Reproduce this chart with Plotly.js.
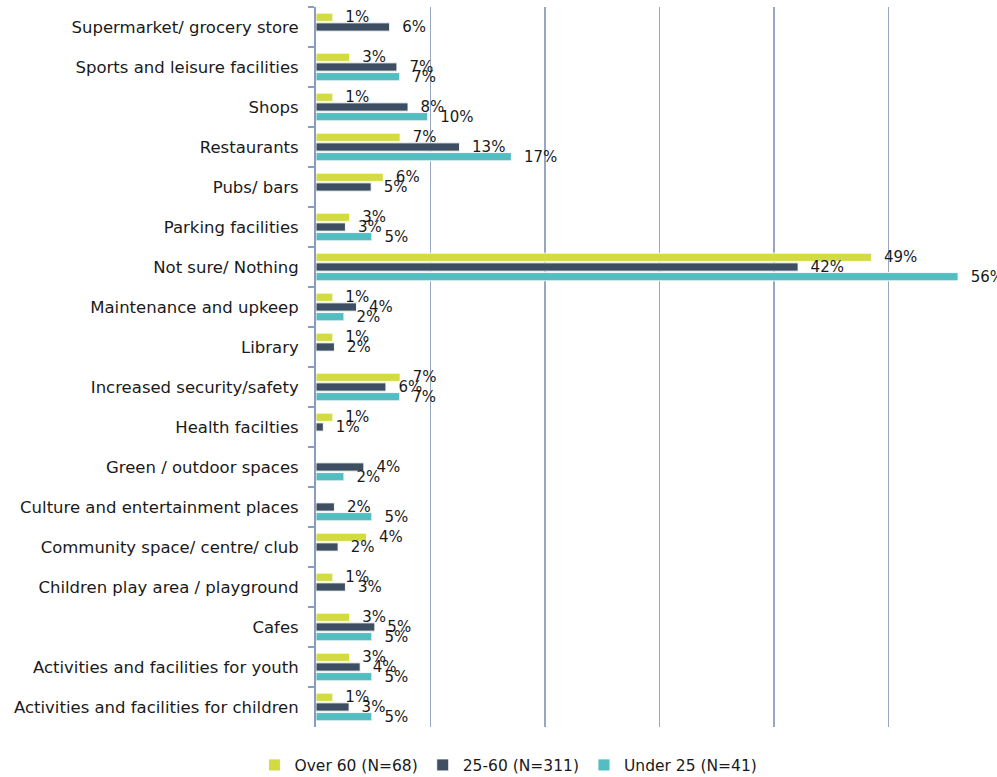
<!DOCTYPE html>
<html><head><meta charset="utf-8">
<script src="https://cdn.plot.ly/plotly-3.0.1.min.js"></script>
<style>body{margin:0;background:#fff}#chart{width:997px;height:777px}</style>
</head><body><div id="chart"></div>
<script>
const categories = [
  "Supermarket/ grocery store",
  "Sports and leisure facilities",
  "Shops",
  "Restaurants",
  "Pubs/ bars",
  "Parking facilities",
  "Not sure/ Nothing",
  "Maintenance and upkeep",
  "Library",
  "Increased security/safety",
  "Health facilties",
  "Green / outdoor spaces",
  "Culture and entertainment places",
  "Community space/ centre/ club",
  "Children play area / playground",
  "Cafes",
  "Activities and facilities for youth",
  "Activities and facilities for children"
];
const seriesNames = ["Over 60 (N=68)", "25-60 (N=311)", "Under 25 (N=41)"];
const over60  = [1.47, 2.94, 1.47, 7.35, 5.88, 2.94, 48.53, 1.47, 1.47, 7.35, 1.47, null, null, 4.41, 1.47, 2.94, 2.94, 1.47];
const age2560 = [6.43, 7.07, 8.04, 12.54, 4.82, 2.57, 42.12, 3.54, 1.61, 6.11, 0.64, 4.18, 1.61, 1.93, 2.57, 5.14, 3.86, 2.89];
const under25 = [null, 7.32, 9.76, 17.07, null, 4.88, 56.10, 2.44, null, 7.32, null, 2.44, 4.88, null, null, 4.88, 4.88, 4.88];
const colors = ["#D3DB44", "#3E4F62", "#53BEC2"];

const FONT = "DejaVu Sans, Verdana, sans-serif";
const mk = (vals, i) => ({
  type: "bar", orientation: "h", name: seriesNames[i],
  x: vals, y: categories,
  marker: {color: colors[i], line: {color: "rgba(255,255,255,0.9)", width: 1}},
  texttemplate: "\u00a0\u00a0%{x:.0f}%", textposition: "outside",
  textfont: {family: FONT, size: 15, color: "#1a1a1a"},
  constraintext: "none", cliponaxis: false, hoverinfo: "skip"
});
const data = [mk(over60,0), mk(age2560,1), mk(under25,2)];
const layout = {
  width: 997, height: 777,
  margin: {l: 316, r: 0, t: 7, b: 50},
  barmode: "group", bargap: 0.27, bargroupgap: 0.15,
  paper_bgcolor: "#fff", plot_bgcolor: "#fff",
  font: {family: FONT, size: 15, color: "#1a1a1a"},
  showlegend: true,
  legend: {orientation: "h", xref: "container", yref: "container", x: 0.51, xanchor: "center", y: 0.015, yanchor: "middle",
    font: {family: FONT, size: 15.5, color: "#1a1a1a"}, itemwidth: 30, traceorder: "normal"},
  xaxis: {range: [0, 59.5], showgrid: true, gridcolor: "#97A7C3", gridwidth: 1.5, zeroline: false,
    showticklabels: false, showline: false, ticks: "", dtick: 10, fixedrange: true},
  yaxis: {type: "category", autorange: "reversed", showline: true, linecolor: "#8A9DBD", linewidth: 2,
    ticks: "outside", tickson: "boundaries", ticklen: 6, tickcolor: "#8A9DBD", tickwidth: 1.5,
    showgrid: false, ticklabelstandoff: 12,
    tickfont: {family: FONT, size: 16.5, color: "#1a1a1a"}}
};
Plotly.newPlot("chart", data, layout, {displayModeBar: false, staticPlot: true});
</script></body></html>
